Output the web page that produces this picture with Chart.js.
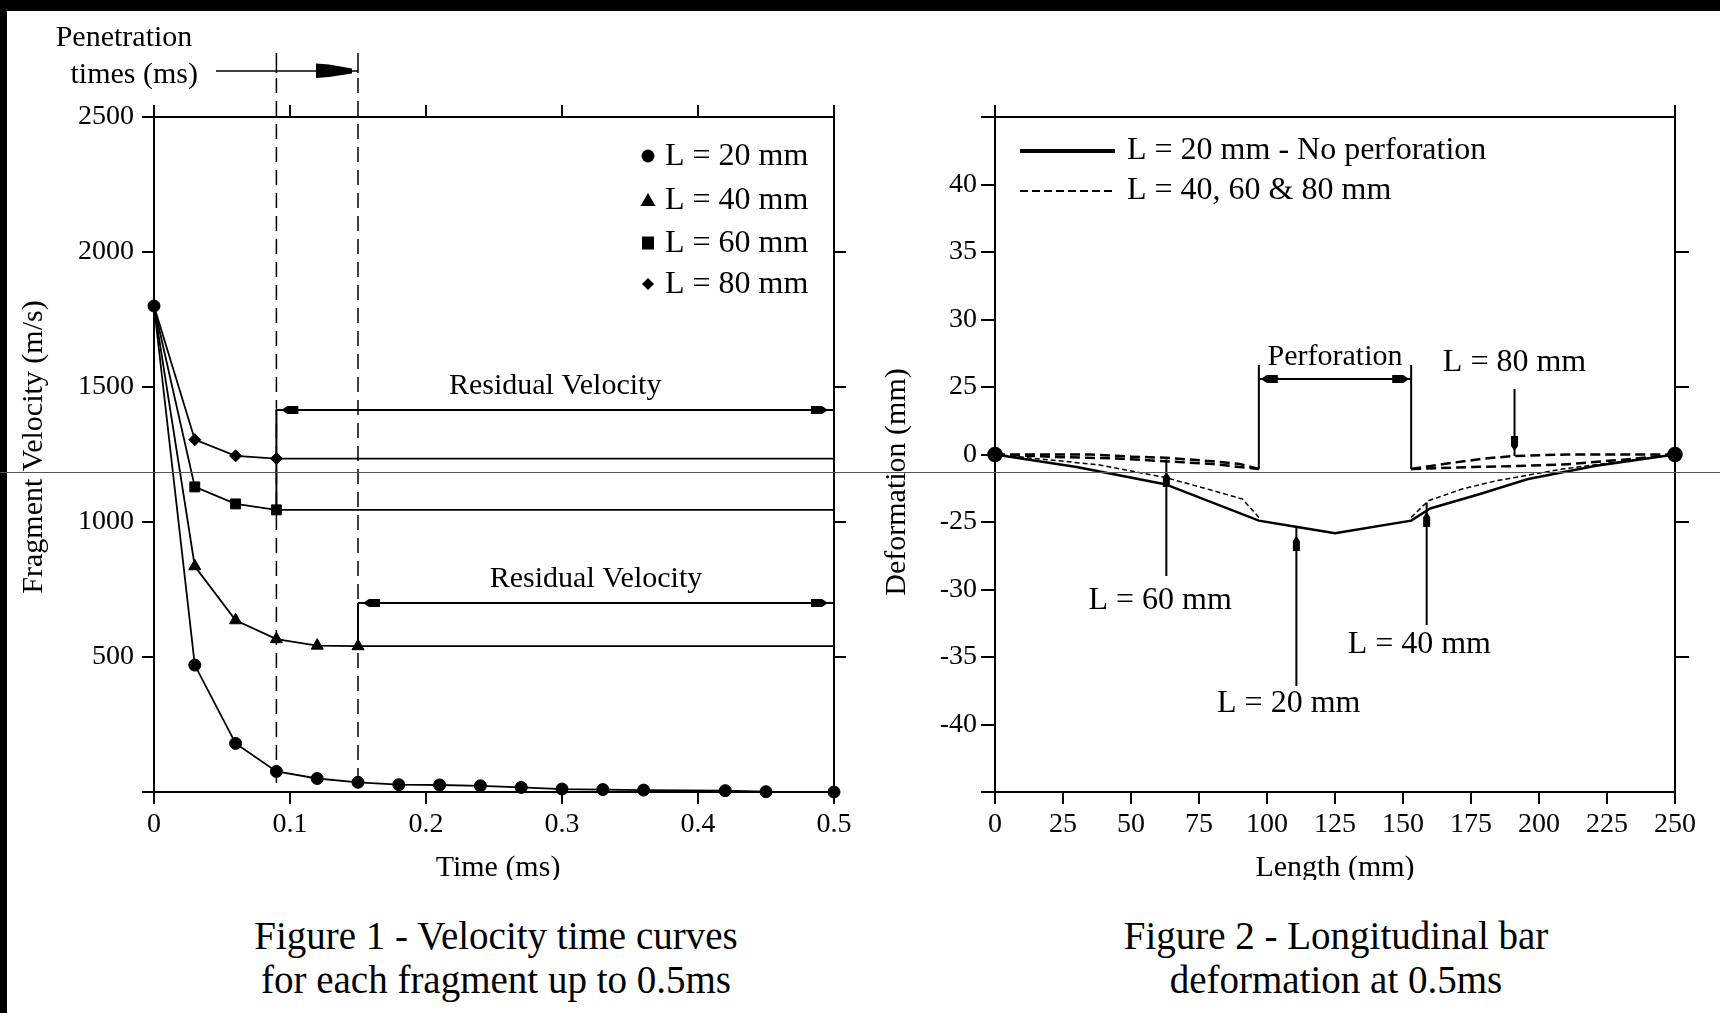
<!DOCTYPE html>
<html>
<head>
<meta charset="utf-8">
<script src="https://cdn.jsdelivr.net/npm/chart.js@4/dist/chart.umd.min.js"></script>
<style>
  html, body { margin: 0; padding: 0; background: #fff; }
  body { width: 1720px; height: 1013px; position: relative; overflow: hidden; font-family: "Liberation Serif", serif; }
  canvas { position: absolute; top: 0; }
  #fig1 { left: 0; }
  #fig2 { left: 860px; }
  .caption { position: absolute; top: 914px; width: 700px; text-align: center; font-size: 39px; line-height: 44px; color: #000; }
  .edge { position: absolute; background: #000; }
  .scanline { position: absolute; left: 0; top: 472px; width: 1720px; height: 1px; background: #555; }
</style>
</head>
<body>
<canvas id="fig1" width="880" height="880"></canvas>
<canvas id="fig2" width="860" height="880"></canvas>
<div class="caption" style="left:146px">Figure 1 - Velocity time curves<br>for each fragment up to 0.5ms</div>
<div class="caption" style="left:986px">Figure 2 - Longitudinal bar<br>deformation at 0.5ms</div>
<div class="edge" style="left:0;top:0;width:1720px;height:11px"></div>
<div class="edge" style="left:0;top:0;width:7px;height:1013px"></div>
<div class="scanline"></div>
<script>
// ---- Figure 1 : velocity / time ----
const seriesNames = ["L = 20 mm", "L = 40 mm", "L = 60 mm", "L = 80 mm"];
const timeL20 = [0, 0.03, 0.06, 0.09, 0.12, 0.15, 0.18, 0.21, 0.24, 0.27, 0.30, 0.33, 0.36, 0.42, 0.45, 0.50];
const velL20 = [1800, 470, 180, 76, 50, 36, 27, 26, 23, 17, 11, 9, 7, 5, 1, 0];
const timeL40 = [0, 0.03, 0.06, 0.09, 0.12, 0.15, 0.50];
const velL40 = [1800, 836, 636, 566, 542, 540, 540];
const timeL60 = [0, 0.03, 0.06, 0.09, 0.50];
const velL60 = [1800, 1130, 1067, 1045, 1045];
const timeL80 = [0, 0.03, 0.06, 0.09, 0.50];
const velL80 = [1800, 1305, 1245, 1235, 1235];
const penetrationTimes = [0.09, 0.15];
const residualArrows = [1415, 700];
const timeTicks = ["0", "0.1", "0.2", "0.3", "0.4", "0.5"];
const velTicks = ["", "500", "1000", "1500", "2000", "2500"];
const velRightTicks = [500, 1000, 1500, 2000];

// ---- Figure 2 : bar deformation ----
const deformNames = ["L = 20 mm - No perforation", "L = 40, 60 & 80 mm"];
const lenL20 = [0, 30, 62.5, 97, 110, 125, 153, 160, 178, 196, 221, 250];
const defL20 = [0, -4.6, -11, -24.5, -26.7, -29.2, -24.5, -20, -14.7, -9.1, -4.2, 0];
const lenL40 = [0, 38, 62.5, 76, 91, 97, 153, 159.4, 171.7, 184, 208.5, 250];
const defL40 = [0, -3.8, -8.5, -12.2, -16.5, -23.3, -23.3, -17.1, -12.8, -9.8, -5.4, 0];
const lenL60 = [0, 25, 45, 62.5, 80, 97, 153, 170, 190, 209, 230, 250];
const defL60 = [0, -1, -1.5, -2.5, -3.5, -5.4, -5.4, -4.8, -4.3, -3.7, -2, 0];
const lenL80 = [0, 35, 50, 62.5, 80, 90, 97, 153, 165, 180, 190, 210, 250];
const defL80 = [0, 0, -0.8, -1.2, -2.5, -3.5, -5.4, -5.4, -3.5, -1.5, -0.6, 0, 0];
const perforation = [97, 153];
const lengthTicks = ["0", "25", "50", "75", "100", "125", "150", "175", "200", "225", "250"];
const deformTicks = ["", "-40", "-35", "-30", "-25", "0", "25", "30", "35", "40", ""];
const deformRightTicks = [-75, -25, 25, 75];

Chart.defaults.font.family = "'Liberation Serif', 'Times New Roman', serif";
Chart.defaults.color = "#000";

const pts = (xs, ys) => xs.map((x, i) => ({ x, y: ys[i] }));
const withGap = (xs, ys) => xs.flatMap((x, i) => {
  const p = { x, y: ys[i] };
  if (i > 0 && xs[i - 1] <= perforation[0] && x >= perforation[1]) {
    return [{ x: (perforation[0] + perforation[1]) / 2, y: null }, p];
  }
  return [p];
});

const axisGrid = (len) => ({ drawOnChartArea: false, color: "#000", lineWidth: 2, tickLength: len });
const axisBorder = { display: true, color: "#000", width: 2 };

function line(ctx, x1, y1, x2, y2) {
  ctx.beginPath();
  ctx.moveTo(x1, y1);
  ctx.lineTo(x2, y2);
  ctx.stroke();
}

function poly(ctx, p) {
  ctx.beginPath();
  ctx.moveTo(p[0][0], p[0][1]);
  p.slice(1).forEach(q => ctx.lineTo(q[0], q[1]));
  ctx.closePath();
  ctx.fill();
}

// small filled arrow heads as in the scan
const headLeft = (ctx, x, y) => poly(ctx, [[x, y], [x + 6, y - 4], [x + 17, y - 4], [x + 17, y + 4], [x + 6, y + 4]]);
const headRight = (ctx, x, y) => poly(ctx, [[x, y], [x - 6, y - 4], [x - 17, y - 4], [x - 17, y + 4], [x - 6, y + 4]]);
const headUp = (ctx, x, y) => poly(ctx, [[x, y], [x + 3.5, y + 5], [x + 3.5, y + 15], [x - 3.5, y + 15], [x - 3.5, y + 5]]);
const headDown = (ctx, x, y) => poly(ctx, [[x, y], [x + 3.5, y - 5], [x + 3.5, y - 15], [x - 3.5, y - 15], [x - 3.5, y - 5]]);

function marker(ctx, style, cx, cy) {
  ctx.beginPath();
  if (style === "circle") ctx.arc(cx, cy, 6.5, 0, Math.PI * 2);
  else if (style === "triangle") { ctx.moveTo(cx, cy - 7); ctx.lineTo(cx + 7.5, cy + 6); ctx.lineTo(cx - 7.5, cy + 6); }
  else if (style === "rect") ctx.rect(cx - 6, cy - 6.5, 12, 13);
  else { ctx.moveTo(cx, cy - 6); ctx.lineTo(cx + 6, cy); ctx.lineTo(cx, cy + 6); ctx.lineTo(cx - 6, cy); }
  ctx.closePath();
  ctx.fill();
}

const fig1Notes = {
  id: "fig1Notes",
  afterDraw(chart) {
    const { ctx, chartArea, scales: { x, y } } = chart;
    const f = (s) => `${s}px 'Liberation Serif', serif`;
    ctx.save();
    ctx.strokeStyle = "#000";
    ctx.fillStyle = "#000";
    ctx.lineWidth = 1.5;

    // penetration time lines
    penetrationTimes.forEach(t => {
      const px = x.getPixelForValue(t);
      ctx.setLineDash([15, 8]);
      line(ctx, px, 78, px, chartArea.bottom);
      ctx.setLineDash([]);
      line(ctx, px, 53, px, 73);
    });
    const p0 = x.getPixelForValue(penetrationTimes[0]);
    const p1 = x.getPixelForValue(penetrationTimes[1]);
    line(ctx, 216, 71, p1, 71);
    poly(ctx, [[p1 - 42, 63.5], [p1 - 29, 64.5], [p1 - 6, 68.5], [p1 - 6, 73.5], [p1 - 29, 77], [p1 - 42, 78]]);
    ctx.font = f(30);
    ctx.textAlign = "center";
    ctx.textBaseline = "middle";
    ctx.fillText("Penetration", 124, 38);
    ctx.textAlign = "right";
    ctx.fillText("times (ms)", 198, 75);

    // legend
    const styles = ["circle", "triangle", "rect", "rectRot"];
    const rows = [156, 200, 243, 284];
    ctx.font = f(32);
    ctx.textAlign = "left";
    seriesNames.forEach((n, i) => {
      marker(ctx, styles[i], 648, rows[i]);
      ctx.fillText(n, 665, rows[i] + 1);
    });

    // residual velocity dimension arrows
    ctx.lineWidth = 2;
    const lowest = [velL60[velL60.length - 1], velL40[velL40.length - 1]];
    penetrationTimes.forEach((t, i) => {
      const px = x.getPixelForValue(t);
      const py = y.getPixelForValue(residualArrows[i]);
      line(ctx, px, py, chartArea.right, py);
      headLeft(ctx, px + 5, py);
      headRight(ctx, chartArea.right - 6, py);
      line(ctx, px, py, px, y.getPixelForValue(lowest[i]));
      ctx.font = f(30);
      ctx.textAlign = "center";
      ctx.fillText("Residual Velocity", (px + chartArea.right) / 2, py - 24);
    });

    // axis titles
    ctx.font = f(30);
    ctx.textAlign = "center";
    ctx.fillText("Time (ms)", (chartArea.left + chartArea.right) / 2 + 4, 868);
    ctx.translate(34, 447);
    ctx.rotate(-Math.PI / 2);
    ctx.fillText("Fragment Velocity (m/s)", 0, 0);
    ctx.restore();
  }
};

const fig2Notes = {
  id: "fig2Notes",
  afterDraw(chart) {
    const { ctx, chartArea, scales: { x, y } } = chart;
    const f = (s) => `${s}px 'Liberation Serif', serif`;
    ctx.save();
    ctx.strokeStyle = "#000";
    ctx.fillStyle = "#000";
    ctx.textBaseline = "middle";

    // legend
    const lx = chartArea.left;
    ctx.lineWidth = 4;
    line(ctx, lx + 25, 151, lx + 120, 151);
    ctx.lineWidth = 2;
    ctx.setLineDash([8, 4]);
    line(ctx, lx + 25, 191, lx + 120, 191);
    ctx.setLineDash([]);
    ctx.font = f(32);
    ctx.textAlign = "left";
    ctx.fillText(deformNames[0], lx + 132, 151);
    ctx.fillText(deformNames[1], lx + 132, 191);

    // perforation
    ctx.lineWidth = 2;
    const a = x.getPixelForValue(perforation[0]);
    const b = x.getPixelForValue(perforation[1]);
    const base = y.getPixelForValue(-5.4);
    line(ctx, a, base, a, 365);
    line(ctx, b, base, b, 365);
    line(ctx, a, 379, b, 379);
    headLeft(ctx, a + 2, 379);
    headRight(ctx, b - 2, 379);
    ctx.font = f(30);
    ctx.textAlign = "center";
    ctx.fillText("Perforation", (a + b) / 2, 357);

    // callouts
    ctx.font = f(32);
    const c80 = x.getPixelForValue(191);
    ctx.fillText(seriesNames[3], c80, 363);
    line(ctx, c80, 389, c80, y.getPixelForValue(-0.6));
    headDown(ctx, c80, y.getPixelForValue(-0.6) - 5);

    const c60 = x.getPixelForValue(63);
    line(ctx, c60, y.getPixelForValue(-1.8), c60, 576);
    headUp(ctx, c60, 472);
    ctx.fillText(seriesNames[2], x.getPixelForValue(60.7), 601);

    const c20 = x.getPixelForValue(110.8);
    line(ctx, c20, y.getPixelForValue(-26.7), c20, 686);
    headUp(ctx, c20, 536);
    ctx.fillText(seriesNames[0], x.getPixelForValue(108), 704);

    const c40 = x.getPixelForValue(158.7);
    line(ctx, c40, y.getPixelForValue(-17.8), c40, 625);
    headUp(ctx, c40, 512);
    ctx.fillText(seriesNames[1], x.getPixelForValue(156), 645);

    // axis titles
    ctx.font = f(30);
    ctx.fillText("Length (mm)", (chartArea.left + chartArea.right) / 2, 868);
    ctx.translate(37, 482);
    ctx.rotate(-Math.PI / 2);
    ctx.fillText("Deformation (mm)", 0, 0);
    ctx.restore();
  }
};

const velSet = (label, xs, ys, style, radii) => ({
  label, data: pts(xs, ys), showLine: true, clip: false,
  borderColor: "#000", backgroundColor: "#000", borderWidth: 1.8,
  pointStyle: style, pointRadius: radii, pointBorderWidth: 1, pointBackgroundColor: "#000"
});

new Chart(document.getElementById("fig1"), {
  type: "scatter",
  data: {
    datasets: [
      velSet(seriesNames[0], timeL20, velL20, "circle", timeL20.map(() => 6)),
      velSet(seriesNames[1], timeL40, velL40, "triangle", [0, 7, 7, 7, 7, 7, 0]),
      velSet(seriesNames[2], timeL60, velL60, "rect", [0, 7, 7, 7, 0]),
      velSet(seriesNames[3], timeL80, velL80, "rectRot", [5, 6, 6, 6, 0]),
    ],
  },
  options: {
    responsive: false,
    animation: false,
    layout: { padding: { left: 74, right: 26, top: 97, bottom: 28 } },
    plugins: { legend: { display: false }, tooltip: { enabled: false } },
    scales: {
      x: {
        type: "linear", position: "bottom", min: 0, max: 0.5,
        afterFit: (s) => { s.height = 60; },
        ticks: { stepSize: 0.1, padding: 4, autoSkip: false, maxRotation: 0, font: { size: 28 }, callback: (v, i) => timeTicks[i] },
        grid: axisGrid(12), border: axisBorder,
      },
      x2: {
        type: "linear", position: "top", min: 0, max: 0.5,
        afterFit: (s) => { s.height = 20; },
        ticks: { stepSize: 0.1, display: false },
        grid: axisGrid(12), border: axisBorder,
      },
      y: {
        type: "linear", position: "left", min: 0, max: 2500,
        afterFit: (s) => { s.width = 80; },
        ticks: { stepSize: 500, padding: 8, font: { size: 28 }, callback: (v, i) => velTicks[i] },
        grid: axisGrid(12), border: axisBorder,
      },
      y2: {
        type: "linear", position: "right", min: 0, max: 2500,
        afterFit: (s) => { s.width = 20; },
        afterBuildTicks: (s) => { s.ticks = velRightTicks.map(v => ({ value: v })); },
        ticks: { display: false },
        grid: axisGrid(12), border: axisBorder,
      },
    },
  },
  plugins: [fig1Notes],
});

const defSet = (label, data, width, dash, radii) => ({
  label, data, showLine: true, clip: false, spanGaps: false,
  borderColor: "#000", backgroundColor: "#000", borderWidth: width, borderDash: dash,
  pointRadius: radii, pointBackgroundColor: "#000"
});

new Chart(document.getElementById("fig2"), {
  type: "scatter",
  data: {
    datasets: [
      defSet(deformNames[0], pts(lenL20, defL20), 2.5, [], lenL20.map((v, i) => (i === 0 || i === lenL20.length - 1 ? 6.5 : 0))),
      defSet(seriesNames[1], withGap(lenL40, defL40), 1.5, [5, 3], 0),
      defSet(seriesNames[2], withGap(lenL60, defL60), 2.5, [10, 5], 0),
      defSet(seriesNames[3], withGap(lenL80, defL80), 2.5, [10, 5], 0),
    ],
  },
  options: {
    responsive: false,
    animation: false,
    layout: { padding: { left: 55, right: 25, top: 97, bottom: 28 } },
    plugins: { legend: { display: false }, tooltip: { enabled: false } },
    scales: {
      x: {
        type: "linear", position: "bottom", min: 0, max: 250,
        afterFit: (s) => { s.height = 60; },
        ticks: { stepSize: 25, padding: 4, autoSkip: false, maxRotation: 0, font: { size: 28 }, callback: (v, i) => lengthTicks[i] },
        grid: axisGrid(12), border: axisBorder,
      },
      x2: {
        type: "linear", position: "top", min: 0, max: 250,
        afterFit: (s) => { s.height = 20; },
        afterBuildTicks: (s) => { s.ticks = [{ value: 0 }, { value: 250 }]; },
        ticks: { display: false },
        grid: axisGrid(12), border: axisBorder,
      },
      y: {
        type: "linear", position: "left", min: -125, max: 125,
        afterFit: (s) => { s.width = 80; },
        ticks: { stepSize: 25, padding: 4, font: { size: 28 }, callback: (v, i) => deformTicks[i] },
        grid: axisGrid(14), border: axisBorder,
      },
      y2: {
        type: "linear", position: "right", min: -125, max: 125,
        afterFit: (s) => { s.width = 20; },
        afterBuildTicks: (s) => { s.ticks = deformRightTicks.map(v => ({ value: v })); },
        ticks: { display: false },
        grid: axisGrid(14), border: axisBorder,
      },
    },
  },
  plugins: [fig2Notes],
});
</script>
</body>
</html>
